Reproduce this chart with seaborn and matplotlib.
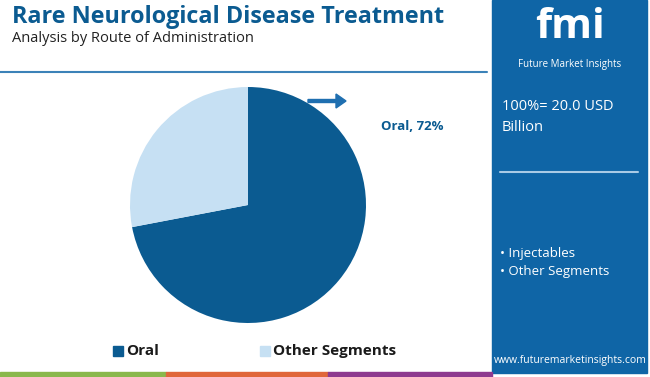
import matplotlib
matplotlib.use("Agg")
import matplotlib.pyplot as plt
from matplotlib.patches import Rectangle, FancyArrow
import seaborn as sns

# chart data
segments = ["Oral", "Other Segments"]
shares = [72, 28]
colors = ["#0b5b91", "#c6e0f3"]
panel_items = ["Injectables", "Other Segments"]
total_text = "100%= 20.0 USD\nBillion"

sns.set_theme(style="white")
plt.rcParams["font.family"] = ["Open Sans", "DejaVu Sans"]

W, H = 650, 377
fig = plt.figure(figsize=(W / 100, H / 100), dpi=100)
fig.patch.set_facecolor("white")

# background axis in pixel coordinates
bg = fig.add_axes([0, 0, 1, 1])
bg.set_xlim(0, W)
bg.set_ylim(H, 0)
bg.axis("off")

title_blue = "#0b5b91"
panel_blue = "#0f65a6"

bg.text(12, 17, "Rare Neurological Disease Treatment", fontsize=16.8, fontweight="bold",
        color=title_blue, va="center", ha="left")
bg.text(12, 38, "Analysis by Route of Administration", fontsize=10.5,
        color="#222222", va="center", ha="left")
bg.plot([0, 487], [72, 72], color="#3b82b8", lw=1.5)

# right panel
bg.add_patch(Rectangle((492, 0), 155, 373, color=panel_blue, zorder=1))
bg.text(570, 28, "fmi", fontsize=30, fontweight="bold", color="white",
        ha="center", va="center", zorder=2)
bg.text(570, 64, "Future Market Insights", fontsize=7, color="white",
        ha="center", va="center", zorder=2)
bg.text(502, 117, total_text, fontsize=10.5, color="white", ha="left",
        va="center", linespacing=1.6, zorder=2)
bg.plot([500, 638], [172, 172], color="#a9cbe6", lw=1.5, zorder=2)
for i, item in enumerate(panel_items):
    bg.text(500, 253 + i * 18, "\u2022 " + item, fontsize=9.5, color="white",
            ha="left", va="center", zorder=2)
bg.text(570, 360, "www.futuremarketinsights.com", fontsize=7.5, color="white",
        ha="center", va="center", zorder=2)

# bottom stripe
for x0, x1, c in [(0, 166, "#8ab84c"), (166, 328, "#e0673a"), (328, 492, "#8e3a8f")]:
    bg.add_patch(Rectangle((x0, 372), x1 - x0, 5, color=c, zorder=1))

# arrow and label
bg.add_patch(FancyArrow(308, 101, 28, 0, width=3, head_width=14, head_length=10,
                        color="#1f6fb0", length_includes_head=False))
bg.text(412, 127, "Oral, 72%", fontsize=9.5, fontweight="bold", color=title_blue,
        ha="center", va="center")

# legend
leg_x = [113, 260]
for x, name, c in zip(leg_x, segments, colors):
    bg.add_patch(Rectangle((x, 346), 10, 10, color=c))
    bg.text(x + 13, 351, name, fontsize=11, fontweight="bold", color="#1a1a1a",
            ha="left", va="center")

# pie
cx, cy, r = 248, 205, 118
pax = fig.add_axes([(cx - r) / W, (H - cy - r) / H, 2 * r / W, 2 * r / H])
pax.pie(shares, colors=colors, startangle=90 + shares[1] * 3.6, counterclock=True,
        wedgeprops=dict(linewidth=0))
pax.set_xlim(-1, 1)
pax.set_ylim(-1, 1)
pax.axis("off")

fig.savefig("out.png", dpi=100)
